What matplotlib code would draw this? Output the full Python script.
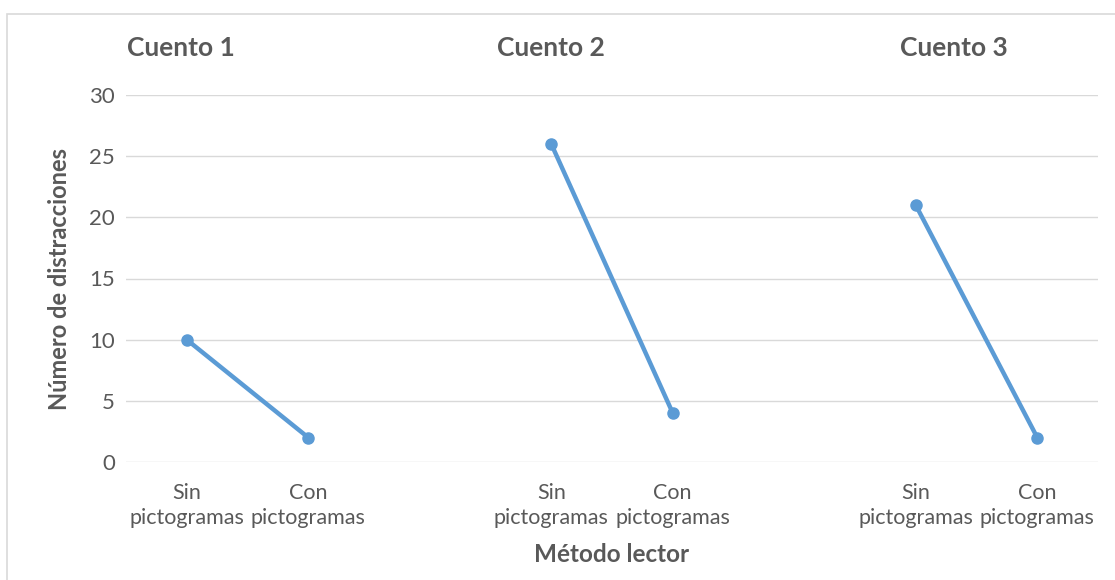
import matplotlib
matplotlib.use("Agg")
import matplotlib.pyplot as plt
from matplotlib.patches import Rectangle

# Reading distractions per story, without and with pictograms
stories = ["Cuento 1", "Cuento 2", "Cuento 3"]
methods = ["Sin\npictogramas", "Con\npictogramas"]
distractions = [[10, 2], [26, 4], [21, 2]]
y_ticks = [0, 5, 10, 15, 20, 25, 30]

BLUE = "#5B9BD5"
GRAY = "#595959"
GRID = "#D9D9D9"

plt.rcParams["font.family"] = ["Lato", "DejaVu Sans"]

fig = plt.figure(figsize=(11.15, 5.8), dpi=100)
ax = fig.add_axes([126 / 1115, 1 - 462 / 580, 972 / 1115, 367 / 580])

# each story takes two slots followed by one empty slot
positions, labels = [], []
for i, vals in enumerate(distractions):
    xs = [3 * i, 3 * i + 1]
    ax.plot(xs, vals, color=BLUE, linewidth=3.2, marker="o", markersize=8,
            solid_capstyle="round", zorder=3)
    positions += xs
    labels += methods

ax.set_xlim(-0.5, 7.5)
ax.set_ylim(0, 30)
ax.set_xticks(positions)
ax.set_xticklabels(labels, fontsize=15.5, color=GRAY, linespacing=1.3)
ax.set_yticks(y_ticks)
ax.set_yticklabels([str(v) for v in y_ticks], fontsize=16, color=GRAY)
ax.tick_params(axis="both", length=0)
ax.tick_params(axis="x", pad=15)
ax.tick_params(axis="y", pad=8)
ax.grid(axis="y", color=GRID, linewidth=1)
ax.set_axisbelow(True)
for s in ax.spines.values():
    s.set_visible(False)

ax.set_ylabel("Número de distracciones", fontsize=17, fontweight="bold",
              color=GRAY, labelpad=13)
ax.set_xlabel("Método lector", fontsize=17.5, fontweight="bold",
              color=GRAY, labelpad=11)

# story titles above each pair
title_x = [-0.05, 3.0, 6.31]
for x, name in zip(title_x, stories):
    ax.text(x, 33.85, name, fontsize=19, fontweight="bold", color=GRAY,
            ha="center", va="center")

# light frame around the chart area
fig.patches.append(Rectangle((7 / 1115, -0.1), 1.2, 1 - 14 / 580 + 0.1,
                             transform=fig.transFigure, fill=False,
                             edgecolor=GRID, linewidth=1.2))

fig.savefig("out.png", dpi=100, facecolor="white")
